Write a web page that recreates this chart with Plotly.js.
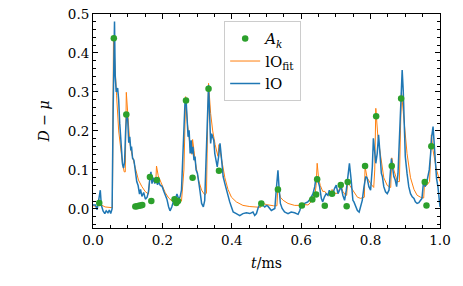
<!DOCTYPE html>
<html><head><meta charset="utf-8">
<script src="https://cdn.plot.ly/plotly-3.0.1.min.js"></script>
<style>body{margin:0;padding:0;background:#fff}#plot{width:463px;height:286px}</style>
</head><body><div id="plot"></div>
<script>
// Measured signal lO
const lO_t = [0.000,0.007,0.012,0.016,0.021,0.024,0.029,0.034,0.038,0.043,0.047,0.051,0.055,0.058,0.062,0.064,0.067,0.071,0.074,0.077,0.080,0.083,0.085,0.088,0.091,0.094,0.097,0.100,0.103,0.106,0.109,0.111,0.114,0.118,0.122,0.126,0.130,0.134,0.137,0.141,0.146,0.151,0.156,0.160,0.164,0.167,0.170,0.174,0.178,0.182,0.186,0.189,0.194,0.199,0.204,0.208,0.213,0.218,0.222,0.227,0.232,0.237,0.242,0.247,0.251,0.255,0.260,0.265,0.268,0.271,0.274,0.277,0.280,0.283,0.285,0.288,0.291,0.294,0.297,0.301,0.305,0.308,0.313,0.318,0.322,0.326,0.330,0.333,0.336,0.339,0.342,0.345,0.348,0.351,0.354,0.358,0.362,0.366,0.369,0.372,0.375,0.380,0.385,0.389,0.394,0.399,0.404,0.413,0.423,0.432,0.442,0.452,0.461,0.466,0.471,0.476,0.481,0.485,0.490,0.495,0.500,0.504,0.514,0.524,0.528,0.533,0.536,0.540,0.545,0.552,0.562,0.571,0.581,0.591,0.596,0.600,0.610,0.619,0.627,0.634,0.639,0.643,0.648,0.653,0.658,0.662,0.667,0.672,0.677,0.681,0.686,0.691,0.696,0.701,0.706,0.710,0.715,0.720,0.725,0.730,0.734,0.739,0.744,0.749,0.752,0.757,0.762,0.767,0.771,0.776,0.781,0.786,0.790,0.795,0.800,0.805,0.808,0.811,0.815,0.819,0.823,0.827,0.831,0.834,0.838,0.843,0.848,0.853,0.857,0.860,0.863,0.867,0.871,0.875,0.879,0.882,0.886,0.891,0.894,0.897,0.900,0.905,0.910,0.915,0.920,0.925,0.929,0.934,0.939,0.944,0.948,0.953,0.957,0.961,0.965,0.969,0.973,0.976,0.980,0.983,0.986,0.990,0.994,0.998,1.000];
const lO_y = [0.010,0.010,-0.002,0.020,0.048,0.010,-0.005,-0.012,-0.005,-0.010,-0.003,-0.012,0.000,0.250,0.481,0.340,0.300,0.310,0.280,0.220,0.170,0.140,0.115,0.105,0.120,0.200,0.245,0.230,0.170,0.185,0.150,0.160,0.130,0.125,0.095,0.070,0.060,0.038,0.050,0.032,0.042,0.025,0.030,0.045,0.080,0.095,0.065,0.080,0.065,0.075,0.062,0.070,0.060,0.058,0.045,0.035,0.025,0.005,-0.005,0.005,0.020,0.025,0.038,0.025,0.031,0.048,0.142,0.271,0.284,0.219,0.185,0.202,0.142,0.176,0.142,0.159,0.125,0.134,0.100,0.091,0.057,0.048,0.014,0.005,0.022,0.142,0.288,0.318,0.245,0.168,0.193,0.185,0.176,0.142,0.125,0.108,0.134,0.168,0.142,0.100,0.083,0.065,0.048,0.031,0.018,0.005,-0.008,-0.012,-0.017,-0.012,-0.010,-0.012,-0.008,-0.017,-0.012,0.003,0.014,0.018,0.009,0.005,0.009,0.007,-0.004,0.001,0.048,0.099,0.057,0.014,0.001,-0.008,-0.012,-0.008,-0.010,-0.014,-0.004,0.009,0.014,0.018,0.027,0.039,0.057,0.082,0.074,0.057,0.027,0.018,0.031,0.039,0.035,0.048,0.035,0.039,0.052,0.061,0.039,0.048,0.057,0.035,0.022,0.048,0.082,0.117,0.074,0.022,0.018,0.005,-0.004,-0.008,0.005,0.022,0.057,0.083,0.079,0.057,0.048,0.108,0.181,0.159,0.117,0.142,0.190,0.142,0.091,0.083,0.057,0.044,0.039,0.048,0.091,0.129,0.108,0.083,0.074,0.057,0.091,0.159,0.288,0.356,0.304,0.202,0.134,0.091,0.057,0.039,0.031,0.027,0.018,0.014,0.016,0.022,0.027,0.074,0.057,0.065,0.083,0.100,0.142,0.185,0.211,0.172,0.129,0.078,0.057,0.022,0.005];
// Fitted curve lO_fit
const fit_t = [0.000,0.012,0.018,0.024,0.035,0.050,0.056,0.059,0.064,0.068,0.074,0.080,0.085,0.090,0.093,0.096,0.100,0.103,0.106,0.112,0.118,0.122,0.131,0.141,0.151,0.160,0.164,0.170,0.178,0.181,0.183,0.188,0.194,0.200,0.208,0.218,0.228,0.234,0.240,0.250,0.255,0.262,0.267,0.272,0.280,0.285,0.287,0.291,0.294,0.304,0.313,0.322,0.327,0.330,0.333,0.339,0.345,0.352,0.360,0.363,0.368,0.375,0.380,0.389,0.399,0.413,0.432,0.452,0.476,0.483,0.485,0.490,0.500,0.509,0.520,0.530,0.533,0.540,0.548,0.562,0.581,0.600,0.602,0.620,0.630,0.632,0.640,0.643,0.646,0.650,0.655,0.662,0.668,0.675,0.686,0.689,0.696,0.705,0.714,0.720,0.728,0.731,0.734,0.740,0.750,0.762,0.771,0.782,0.784,0.790,0.800,0.809,0.812,0.815,0.821,0.829,0.838,0.848,0.858,0.861,0.867,0.877,0.883,0.886,0.889,0.894,0.905,0.915,0.925,0.934,0.944,0.953,0.956,0.961,0.970,0.975,0.980,0.990,1.000];
const fit_y = [0.008,0.006,0.016,0.010,0.005,0.003,0.003,0.440,0.340,0.290,0.200,0.150,0.116,0.095,0.095,0.299,0.240,0.190,0.170,0.140,0.120,0.100,0.074,0.057,0.044,0.038,0.085,0.075,0.068,0.070,0.110,0.085,0.072,0.058,0.042,0.028,0.020,0.020,0.025,0.020,0.020,0.100,0.288,0.220,0.159,0.140,0.178,0.150,0.125,0.074,0.048,0.036,0.040,0.200,0.322,0.245,0.200,0.165,0.135,0.165,0.140,0.100,0.080,0.050,0.030,0.018,0.009,0.006,0.004,0.004,0.018,0.014,0.011,0.009,0.008,0.008,0.057,0.030,0.022,0.014,0.009,0.009,0.012,0.010,0.020,0.030,0.040,0.060,0.117,0.080,0.060,0.045,0.045,0.036,0.035,0.050,0.040,0.040,0.060,0.045,0.035,0.035,0.070,0.060,0.045,0.030,0.027,0.030,0.108,0.080,0.065,0.055,0.100,0.258,0.185,0.130,0.080,0.060,0.055,0.131,0.100,0.070,0.070,0.200,0.300,0.250,0.142,0.080,0.050,0.035,0.030,0.028,0.074,0.060,0.070,0.190,0.150,0.100,0.070];
// Pulse amplitudes A_k
const Ak_t = [0.018,0.060,0.096,0.122,0.127,0.132,0.137,0.142,0.164,0.168,0.184,0.235,0.240,0.245,0.268,0.287,0.333,0.363,0.485,0.533,0.602,0.632,0.643,0.646,0.668,0.689,0.714,0.731,0.734,0.784,0.816,0.861,0.888,0.956,0.961,0.975];
const Ak_y = [0.015,0.438,0.242,0.006,0.007,0.008,0.009,0.010,0.082,0.020,0.074,0.025,0.015,0.020,0.278,0.080,0.308,0.098,0.014,0.050,0.009,0.024,0.037,0.076,0.008,0.039,0.061,0.007,0.069,0.110,0.238,0.110,0.283,0.069,0.009,0.161];

const serif = '"DejaVu Serif", "Liberation Serif", serif';
const traces = [
  {x: fit_t, y: fit_y, type:'scatter', mode:'lines', name:'lO<sub>fit</sub>', legendrank:2,
   line:{color:'#ff7f0e', width:1}},
  {x: lO_t, y: lO_y, type:'scatter', mode:'lines', name:'lO', legendrank:3,
   line:{color:'#1f77b4', width:1.5}},
  {x: Ak_t, y: Ak_y, type:'scatter', mode:'markers', name:'<i>A<sub>k</sub></i>', legendrank:1,
   marker:{color:'#2ca02c', size:6.5}}
];
const axisCommon = {
  showline:true, linecolor:'#000', linewidth:1, mirror:'allticks',
  ticks:'inside', ticklen:5, tickwidth:1, tickcolor:'#000',
  showgrid:false, zeroline:false, tickformat:'.1f',
  tickfont:{family:serif, size:13.5, color:'#000'}
};
const layout = {
  width:463, height:286,
  margin:{l:93, r:23, t:14, b:58},
  paper_bgcolor:'#fff', plot_bgcolor:'#fff',
  font:{family:serif, color:'#000'},
  xaxis: Object.assign({}, axisCommon, {
    range:[0,1], dtick:0.2, tick0:0,
    minor:{dtick:0.05, ticks:'inside', ticklen:3, tickcolor:'#000', showgrid:false},
    title:{text:'<i>t</i>/ms', font:{family:serif, size:14}, standoff:10}
  }),
  yaxis: Object.assign({}, axisCommon, {
    range:[-0.049,0.5], dtick:0.1, tick0:0,
    minor:{dtick:0.02, ticks:'inside', ticklen:3, tickcolor:'#000', showgrid:false},
    title:{text:'<i>D</i> − <i>μ</i>', font:{family:serif, size:14}, standoff:14}
  }),
  legend:{x:0.378, y:0.966, xanchor:'left', yanchor:'top',
    bgcolor:'rgba(255,255,255,0.85)', bordercolor:'#cccccc', borderwidth:1,
    font:{family:serif, size:15}, tracegroupgap:0, itemwidth:30},
  showlegend:true
};
Plotly.newPlot('plot', traces, layout, {displayModeBar:false, staticPlot:true});
</script></body></html>
